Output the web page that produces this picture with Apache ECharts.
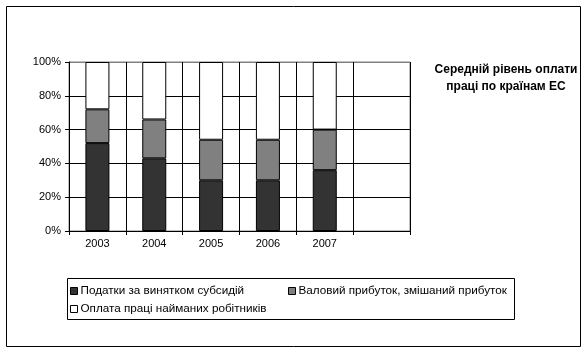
<!DOCTYPE html>
<html>
<head>
<meta charset="utf-8">
<script src="https://cdn.jsdelivr.net/npm/echarts@6/dist/echarts.min.js"></script>
<style>
  html, body { margin: 0; padding: 0; background: #fff; }
  #chart { width: 588px; height: 352px; }
</style>
</head>
<body>
<div id="chart"></div>
<script>
var years = ['2003', '2004', '2005', '2006', '2007', ''];
var taxes = [52, 43, 30, 30, 36, null];      // Податки за винятком субсидій
var profit = [20, 23, 24, 24, 24, null];     // Валовий прибуток, змішаний прибуток
var wages = [28, 34, 46, 46, 40, null];      // Оплата праці найманих робітників
var seriesNames = [
    'Податки за винятком субсидій',
    'Валовий прибуток, змішаний прибуток',
    'Оплата праці найманих робітників'
];
var seriesColors = ['#333333', '#808080', '#ffffff'];

var FONT = 'Liberation Sans';

function make_series(i, values){
    return {
        name: seriesNames[i],
        type: 'bar',
        stack: 'total',
        barWidth: 24,
        data: values,
        itemStyle: { color: seriesColors[i], borderColor: '#000', borderWidth: 1 },
        emphasis: { disabled: true }
    };
}

function make_legend(name, left, top){
    return {
        data: [name],
        left: left,
        top: top,
        itemWidth: 7,
        itemHeight: 7,
        itemGap: 4,
        padding: 0,
        icon: 'rect',
        itemStyle: { borderColor: '#000', borderWidth: 1 },
        textStyle: { fontFamily: FONT, fontSize: 11.7, color: '#000', padding: [0, 0, 0, -2] },
        selectedMode: false
    };
}

var chart = echarts.init(document.getElementById('chart'));
var option = {
    animation: false,
    backgroundColor: '#fff',
    textStyle: { fontFamily: FONT },
    title: {
        text: 'Середній рівень оплати\nпраці по країнам ЕС',
        left: 501,
        top: 56,
        textAlign: 'center',
        textStyle: { fontFamily: FONT, fontSize: 12, fontWeight: 'bold', color: '#000', lineHeight: 17, align: 'center' }
    },
    legend: [
        make_legend(seriesNames[0], 70, 285),
        make_legend(seriesNames[1], 288, 285),
        make_legend(seriesNames[2], 70, 303)
    ],
    grid: {
        left: 69, top: 62, right: 178, bottom: 121,
        show: true, borderColor: '#808080', borderWidth: 1
    },
    xAxis: {
        type: 'category',
        data: years,
        axisLine: { lineStyle: { color: '#000' } },
        axisTick: { show: true, length: 4, lineStyle: { color: '#000' } },
        axisLabel: { color: '#000', fontSize: 11, margin: 7, fontFamily: FONT },
        splitLine: { show: true, lineStyle: { color: '#000' } }
    },
    yAxis: {
        type: 'value',
        min: 0,
        max: 100,
        interval: 20,
        axisLine: { show: true, lineStyle: { color: '#000' } },
        axisTick: { show: true, length: 4, lineStyle: { color: '#000' } },
        axisLabel: { color: '#000', fontSize: 11, margin: 8, fontFamily: FONT, formatter: '{value}%' },
        splitLine: { show: true, lineStyle: { color: ['#000', '#000', '#000', '#000', '#000', '#808080'] } }
    },
    graphic: [
        { type: 'rect', shape: { x: 6.5, y: 6.5, width: 574, height: 340 }, style: { fill: null, stroke: '#000', lineWidth: 1 }, silent: true, z: -1 },
        { type: 'rect', shape: { x: 67.5, y: 278.5, width: 447, height: 41 }, style: { fill: null, stroke: '#000', lineWidth: 1 }, silent: true, z: -1 }
    ],
    series: [
        make_series(0, taxes),
        make_series(1, profit),
        make_series(2, wages)
    ]
};
chart.setOption(option);
</script>
</body>
</html>
